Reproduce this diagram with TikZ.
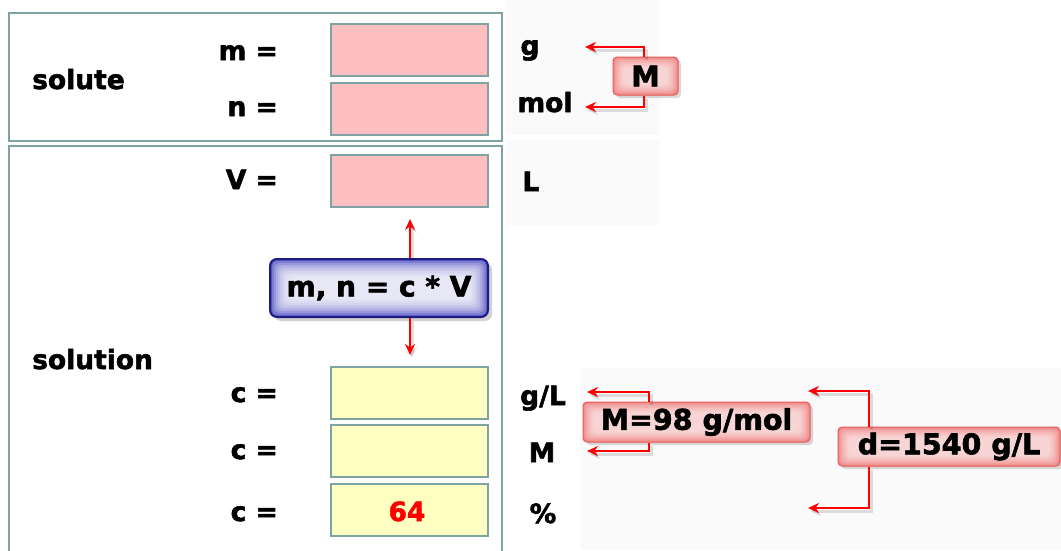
\documentclass[tikz,border=0pt]{standalone}
\usepackage{fontspec}
\setmainfont{DejaVu Sans}
\newfontfamily\heavy{DejaVu Sans Bold}[FakeBold=2]
\usetikzlibrary{arrows.meta,shadows}
\definecolor{frame}{HTML}{7FA2A2}
\definecolor{pinkfill}{HTML}{FDBFBF}
\definecolor{yelfill}{HTML}{FFFFC2}
\definecolor{navy}{HTML}{1C1C82}
\definecolor{bluesh}{HTML}{5C5CC8}
\definecolor{redbd}{HTML}{E85858}
\definecolor{pinkout}{HTML}{F28C8C}
\definecolor{faint}{HTML}{FAFAFA}
\tikzset{
  txt/.style={font=\fontsize{26.5}{30}\heavy, inner sep=0pt},
  cell/.style={draw=frame, line width=2pt, minimum width=157pt, minimum height=52pt, inner sep=0pt},
  pinkcell/.style={cell, fill=pinkfill},
  yelcell/.style={cell, fill=yelfill},
  frm/.style={draw=frame, line width=2pt},
  glow/.style 2 args={path picture={\foreach \i in {#1} \fill[white,opacity=#2,rounded corners=5pt]
     ([shift={(\i pt,\i pt)}]path picture bounding box.south west) rectangle
     ([shift={(-\i pt,-\i pt)}]path picture bounding box.north east);}},
  formula/.style={draw=navy, line width=2pt, rounded corners=7pt, fill=bluesh, glow={2,4,...,18}{.2},
    drop shadow={shadow xshift=4pt, shadow yshift=-4pt, opacity=.35}, minimum width=218pt, minimum height=58pt,
    font=\fontsize{28}{30}\heavy},
  tag/.style={draw=redbd, line width=1pt, rounded corners=4pt, fill=pinkout, glow={1.5,3,...,10.5}{.14},
    drop shadow={shadow xshift=3pt, shadow yshift=-3pt, opacity=.3}, inner sep=0pt,
    font=\fontsize{28.5}{30}\heavy},
  redarrow/.style={draw=red, line width=2pt, -{Stealth[length=11pt,width=10pt]},
    preaction={draw=black, opacity=.12, line width=3pt, transform canvas={shift={(2pt,-3pt)}}}},
}
\begin{document}
\begin{tikzpicture}[x=1pt,y=-1pt]
\useasboundingbox (0,0) rectangle (1061,550);
\fill[white] (0,0) rectangle (1061,550);
% faint backgrounds
\fill[faint] (506,0) rectangle (660,135);
\fill[faint] (506,140) rectangle (660,225);
\fill[faint] (580,368) rectangle (1061,550);
% frames
\draw[frm] (9,13) rectangle (502,141);
\draw[frm] (9,552) -- (9,146) -- (502,146) -- (502,552);
% cells
\node[pinkcell] (mbox) at (409.5,50) {};
\node[pinkcell] (nbox) at (409.5,109) {};
\node[pinkcell] (vbox) at (409.5,180.5) {};
\node[yelcell] (c1box) at (409.5,392.5) {};
\node[yelcell] (c2box) at (409.5,451) {};
\node[yelcell] (c3box) at (409.5,509.5) {};
\node[txt, text=red, anchor=base] (val) at (407,521) {64};
% left labels
\node[txt, anchor=base west] (solute) at (32,89) {solute};
\node[txt, anchor=base west] (solution) at (32,369) {solution};
\node[txt, anchor=base east] (lm) at (278,60) {m =};
\node[txt, anchor=base east] (ln) at (278,116) {n =};
\node[txt, anchor=base east] (lv) at (278,189) {V =};
\node[txt, anchor=base east] (lc1) at (278,402) {c =};
\node[txt, anchor=base east] (lc2) at (278,459) {c =};
\node[txt, anchor=base east] (lc3) at (278,521) {c =};
% units
\node[txt, anchor=base] (ug) at (530,55) {g};
\node[txt, anchor=base] (umol) at (545,112) {mol};
\node[txt, anchor=base] (uL) at (531,191) {L};
\node[txt, anchor=base] (ugl) at (543,405) {g/L};
\node[txt, anchor=base] (uM) at (542,462) {M};
\node[txt, anchor=base] (upc) at (543,523) {\%};
% formula
\node[formula] (form) at (379,288) {m, n = c * V};
\coordinate (vtip) at (410,219);
\coordinate (ctip) at (410,355);
\draw[redarrow] (form.north -| vtip) -- (vtip);
\draw[redarrow] (form.south -| ctip) -- (ctip);
% M tag
\node[tag, minimum width=65pt, minimum height=38pt] (Mtag) at (645.5,76) {M};
\coordinate (gtip) at (585,47);
\coordinate (moltip) at (585,107);
\coordinate (mx) at (644,76);
\draw[redarrow] (Mtag.north -| mx) |- (gtip);
\draw[redarrow] (Mtag.south -| mx) |- (moltip);
% M=98 tag
\node[tag, minimum width=227pt, minimum height=40pt] (Mm) at (696.5,422) {M=98 g/mol};
\coordinate (m98x) at (649,422);
\coordinate (gltip) at (587,392);
\coordinate (Mtip) at (587,451);
\draw[redarrow] (Mm.north -| m98x) |- (gltip);
\draw[redarrow] (Mm.south -| m98x) |- (Mtip);
% d tag
\node[tag, minimum width=222pt, minimum height=39pt] (dtag) at (949,446.5) {d=1540 g/L};
\coordinate (dx) at (869,446);
\coordinate (dtop) at (808,391);
\coordinate (dbot) at (808,508);
\draw[redarrow] (dtag.north -| dx) |- (dtop);
\draw[redarrow] (dtag.south -| dx) |- (dbot);
\end{tikzpicture}
\end{document}
